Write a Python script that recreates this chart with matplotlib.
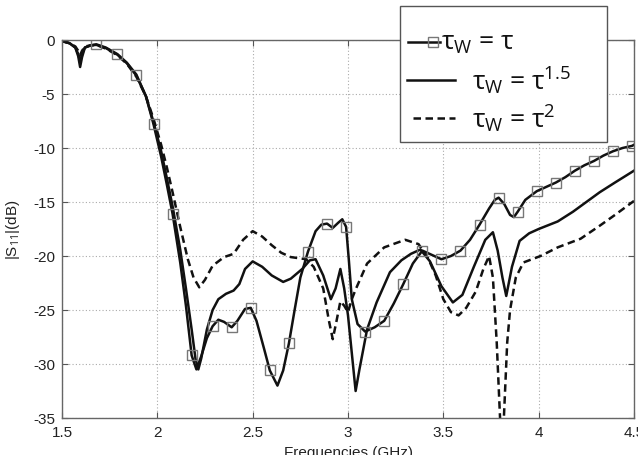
import matplotlib
matplotlib.use("Agg")
import matplotlib.pyplot as plt
from matplotlib.lines import Line2D
from matplotlib.patches import Rectangle
from matplotlib.ticker import FuncFormatter

plt.rcParams["font.family"] = ["Liberation Sans", "DejaVu Sans"]
plt.rcParams["axes.unicode_minus"] = False
plt.rcParams["mathtext.fontset"] = "custom"
plt.rcParams["mathtext.rm"] = "Open Sans"
plt.rcParams["mathtext.it"] = "Open Sans:italic"

# tau_w = tau (solid, square markers)
tau1_f = [1.50, 1.54, 1.57, 1.585, 1.595, 1.605, 1.62, 1.65, 1.68, 1.73, 1.79, 1.84,
          1.89, 1.94, 1.98, 2.02, 2.05, 2.08, 2.12, 2.15, 2.18, 2.205, 2.23, 2.26,
          2.29, 2.32, 2.35, 2.39, 2.42, 2.46, 2.49, 2.52, 2.56, 2.59, 2.63, 2.66,
          2.69, 2.72, 2.75, 2.79, 2.83, 2.86, 2.89, 2.92, 2.95, 2.97, 2.99, 3.005,
          3.02, 3.05, 3.09, 3.14, 3.19, 3.24, 3.29, 3.34, 3.39, 3.44, 3.49, 3.54,
          3.59, 3.64, 3.69, 3.74, 3.77, 3.79, 3.82, 3.85, 3.87, 3.89, 3.93, 3.99,
          4.04, 4.09, 4.14, 4.19, 4.24, 4.29, 4.34, 4.39, 4.44, 4.49, 4.50]
tau1_db = [-0.1, -0.3, -0.7, -1.5, -2.5, -1.6, -0.7, -0.5, -0.4, -0.7, -1.3, -2.1,
           -3.2, -5.2, -7.8, -10.8, -13.4, -16.1, -20.6, -24.6, -29.2, -30.5, -29.3, -27.6,
           -26.5, -25.9, -26.1, -26.6, -26.0, -24.9, -24.8, -26.0, -28.6, -30.6, -32.0, -30.6,
           -28.1, -25.0, -22.0, -19.6, -17.7, -17.1, -17.0, -17.4, -16.9, -16.6, -17.3, -20.5,
           -24.0, -26.3, -27.0, -26.6, -26.0, -24.4, -22.6, -20.7, -19.5, -19.9, -20.3, -20.0,
           -19.5, -18.5, -17.1, -15.6, -14.8, -14.6, -15.2, -16.2, -16.4, -15.9, -14.8, -14.0,
           -13.6, -13.2, -12.7, -12.1, -11.6, -11.2, -10.7, -10.3, -10.0, -9.8, -9.7]
tau1_marks = [1.68, 1.79, 1.89, 1.98, 2.08, 2.18, 2.29, 2.39, 2.49, 2.59, 2.69, 2.79,
              2.89, 2.99, 3.09, 3.19, 3.29, 3.39, 3.49, 3.59, 3.69, 3.79, 3.89, 3.99,
              4.09, 4.19, 4.29, 4.39, 4.49]

# tau_w = tau^1.5 (solid)
tau15_f = [1.50, 1.54, 1.57, 1.585, 1.595, 1.605, 1.62, 1.65, 1.68, 1.73, 1.79, 1.84,
           1.89, 1.94, 1.98, 2.02, 2.05, 2.08, 2.12, 2.15, 2.18, 2.20, 2.215, 2.23,
           2.26, 2.29, 2.32, 2.36, 2.40, 2.43, 2.46, 2.50, 2.55, 2.60, 2.66, 2.70,
           2.76, 2.80, 2.83, 2.87, 2.91, 2.935, 2.96, 2.98, 3.00, 3.02, 3.04, 3.06,
           3.10, 3.15, 3.22, 3.28, 3.33, 3.38, 3.43, 3.49, 3.55, 3.60, 3.66, 3.72,
           3.76, 3.785, 3.81, 3.83, 3.86, 3.90, 3.95, 4.00, 4.10, 4.18, 4.25, 4.32,
           4.40, 4.50]
tau15_db = [-0.1, -0.3, -0.7, -1.3, -2.0, -1.3, -0.7, -0.5, -0.45, -0.75, -1.35, -2.15,
            -3.3, -5.2, -7.6, -10.3, -12.8, -15.4, -19.4, -23.0, -26.8, -29.5, -30.5, -29.5,
            -26.8, -25.0, -24.0, -23.5, -23.2, -22.6, -21.2, -20.5, -21.0, -21.8, -22.4, -22.1,
            -21.2, -20.4, -20.3, -21.8, -24.0, -23.0, -21.2, -23.0, -25.5, -29.0, -32.5, -30.5,
            -26.8, -24.3, -21.5, -20.4, -19.8, -19.4, -20.5, -22.8, -24.3, -23.6, -21.0, -18.5,
            -17.8, -19.5, -22.0, -23.7, -21.0, -18.6, -17.9, -17.5, -16.8, -15.9, -15.0, -14.1,
            -13.2, -12.1]

# tau_w = tau^2 (dashed)
tau2_f = [1.50, 1.54, 1.57, 1.585, 1.595, 1.605, 1.62, 1.65, 1.68, 1.73, 1.79, 1.84,
          1.89, 1.94, 1.98, 2.02, 2.05, 2.08, 2.12, 2.16, 2.19, 2.22, 2.25, 2.29,
          2.35, 2.40, 2.45, 2.50, 2.55, 2.60, 2.65, 2.70, 2.78, 2.82, 2.87, 2.90,
          2.92, 2.94, 2.96, 2.98, 3.00, 3.02, 3.04, 3.10, 3.19, 3.30, 3.37, 3.42,
          3.46, 3.50, 3.54, 3.58, 3.62, 3.67, 3.71, 3.74, 3.76, 3.78, 3.80, 3.81,
          3.82, 3.835, 3.85, 3.88, 3.92, 4.01, 4.10, 4.22, 4.32, 4.40, 4.50]
tau2_db = [-0.1, -0.3, -0.6, -1.0, -1.4, -1.0, -0.6, -0.5, -0.45, -0.8, -1.4, -2.2,
           -3.4, -5.2, -7.3, -9.7, -11.8, -14.1, -17.3, -20.3, -22.0, -22.9, -22.2, -20.9,
           -20.1, -19.8, -18.5, -17.7, -18.2, -19.0, -19.7, -20.1, -20.3, -21.0, -23.0, -26.0,
           -27.7, -26.0, -24.2, -24.6, -25.2, -24.0, -23.1, -20.7, -19.2, -18.5, -18.9, -20.2,
           -21.8, -24.0, -25.2, -25.5, -24.8, -23.3, -21.2, -20.0, -22.0, -28.0, -36.0, -38.0,
           -34.0, -28.0, -25.0, -22.0, -20.6, -20.0, -19.2, -18.4, -17.2, -16.2, -14.9]

x_ticks = [1.5, 2, 2.5, 3, 3.5, 4, 4.5]
y_ticks = [0, -5, -10, -15, -20, -25, -30, -35]
labels = ["\u03c4$_\\mathrm{W}$ = \u03c4",
          "\u03c4$_\\mathrm{W}$ = \u03c4$^\\mathrm{1.5}$",
          "\u03c4$_\\mathrm{W}$ = \u03c4$^\\mathrm{2}$"]

W, H = 638, 456


def fx(px):
    return px / W


def fy(py):
    return 1 - py / H


fig = plt.figure(figsize=(6.38, 4.56), dpi=100)
ax = fig.add_axes([fx(62), fy(419), fx(634) - fx(62), fy(41) - fy(419)])

mark_idx = [i for i, f in enumerate(tau1_f) if round(f, 3) in [round(m, 3) for m in tau1_marks]]
line_kw = dict(color="#111111", linewidth=1.8)
mark_kw = dict(marker="s", markersize=7, markerfacecolor="none",
               markeredgecolor="#777777", markeredgewidth=1.0)

ax.plot(tau2_f, tau2_db, linestyle=(0, (3, 1.8)), **line_kw)
ax.plot(tau15_f, tau15_db, linestyle="-", **line_kw)
ax.plot(tau1_f, tau1_db, linestyle="-", markevery=mark_idx, **line_kw, **mark_kw)

ax.set_xlim(1.5, 4.5)
ax.set_ylim(-35, 0)
ax.set_xticks(x_ticks)
ax.set_yticks(y_ticks)
ax.xaxis.set_major_formatter(FuncFormatter(lambda v, p: f"{v:g}"))
ax.yaxis.set_major_formatter(FuncFormatter(lambda v, p: f"{v:g}"))
ax.tick_params(direction="in", length=4, width=0.8, top=True, right=True,
               labelsize=11, colors="#555555", labelcolor="#222222", pad=5)
ax.grid(True, linestyle=(0, (1, 2)), color="#aaaaaa", linewidth=0.8)
for s in ax.spines.values():
    s.set_color("#666666")
    s.set_linewidth(1.0)

ax.set_xlabel("Frequencies (GHz)", fontsize=11, color="#222222")
ax.xaxis.set_label_coords(0.5, -0.072)
ax.set_ylabel("|S$_{11}$|(dB)", fontsize=11, color="#222222")
ax.yaxis.set_label_coords(-0.07, 0.5)

# legend box, drawn by hand (first entry overlaps its label)
box = Rectangle((fx(400), fy(143)), fx(607) - fx(400), fy(7) - fy(143),
                transform=fig.transFigure, facecolor="white", edgecolor="#555555",
                linewidth=1.0, zorder=5)
fig.add_artist(box)

leg_font = dict(fontsize=19, family=["Open Sans", "DejaVu Sans"], color="#111111", zorder=6)
fig.add_artist(Line2D([fx(408), fx(440)], [fy(43), fy(43)], transform=fig.transFigure,
                      color="#111111", linewidth=1.8, zorder=6))
fig.add_artist(Line2D([fx(433)], [fy(43)], transform=fig.transFigure, linestyle="none",
                      zorder=6, **mark_kw))
fig.text(fx(441), fy(50), labels[0], ha="left", va="baseline", **leg_font)

fig.add_artist(Line2D([fx(407), fx(455)], [fy(81), fy(81)], transform=fig.transFigure,
                      color="#111111", linewidth=1.8, zorder=6))
fig.text(fx(472), fy(90), labels[1], ha="left", va="baseline", **leg_font)

fig.add_artist(Line2D([fx(413), fx(455)], [fy(119), fy(119)], transform=fig.transFigure,
                      color="#111111", linewidth=1.8, linestyle=(0, (3, 1.8)), zorder=6))
fig.text(fx(472), fy(128), labels[2], ha="left", va="baseline", **leg_font)

fig.savefig("out.png", dpi=100)
